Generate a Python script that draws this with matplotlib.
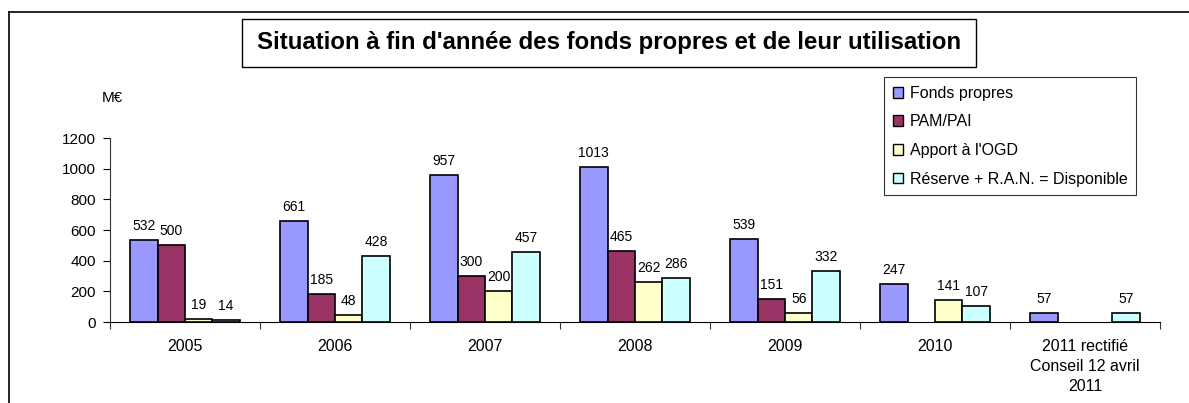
import numpy as np
import matplotlib
matplotlib.use("Agg")
import matplotlib.pyplot as plt
from matplotlib.lines import Line2D
from matplotlib.patches import Rectangle

plt.rcParams['font.family'] = ['Liberation Sans', 'DejaVu Sans']

categories = ["2005", "2006", "2007", "2008", "2009", "2010",
              "2011 rectifié\nConseil 12 avril\n2011"]
fonds_propres = [532, 661, 957, 1013, 539, 247, 57]
pam_pai = [500, 185, 300, 465, 151, None, None]
apport_ogd = [19, 48, 200, 262, 56, 141, None]
reserve = [14, 428, 457, 286, 332, 107, 57]

series_names = ["Fonds propres", "PAM/PAI", "Apport à l'OGD",
                "Réserve + R.A.N. = Disponible"]
series_values = [fonds_propres, pam_pai, apport_ogd, reserve]
colors = ["#9999FF", "#993366", "#FFFFCC", "#CCFFFF"]


def main():
    W, H = 1189, 403
    fig = plt.figure(figsize=(W / 100, H / 100), dpi=100)
    ax = fig.add_axes([110 / W, (H - 322) / H, 1050 / W, 184 / H])

    x = np.arange(len(categories))
    bw = 0.183
    for i, (name, vals, col) in enumerate(zip(series_names, series_values, colors)):
        off = (i - 1.5) * bw
        xs = [xi + off for xi, v in zip(x, vals) if v is not None]
        vs = [v for v in vals if v is not None]
        ax.bar(xs, vs, width=bw, color=col, edgecolor="black", linewidth=1.2,
               label=name, zorder=3)
        for xi, v in zip(xs, vs):
            ax.annotate(str(v), (xi, v), xytext=(0, 5), textcoords="offset points",
                        ha="center", va="bottom", fontsize=10)

    ax.set_xlim(-0.5, len(categories) - 0.5)
    ax.set_ylim(0, 1200)
    ax.set_yticks(range(0, 1201, 200))
    ax.tick_params(axis="y", labelsize=11, length=5, direction="out", pad=5)

    # category boundaries as ticks, labels at centers
    ax.set_xticks(np.arange(-0.5, len(categories), 1.0))
    ax.set_xticklabels([])
    ax.tick_params(axis="x", which="major", length=5, direction="out", color="#333333")
    ax.set_xticks(x, minor=True)
    ax.set_xticklabels(categories, minor=True, fontsize=11.5, linespacing=1.45)
    ax.tick_params(axis="x", which="minor", length=0, pad=12)

    for s in ["top", "right"]:
        ax.spines[s].set_visible(False)
    ax.spines["left"].set_color("#333333")
    ax.spines["bottom"].set_color("black")

    leg = ax.legend(loc="upper left", bbox_to_anchor=(884 / W, 1 - 77 / H),
                    bbox_transform=fig.transFigure, fontsize=11.5, frameon=True,
                    fancybox=False, edgecolor="black", handlelength=0.65,
                    handleheight=0.65, handletextpad=0.4, labelspacing=0.85,
                    borderpad=0.55, borderaxespad=0)
    leg.get_frame().set_linewidth(0.8)
    for h in leg.legend_handles:
        h.set_linewidth(1.0)

    # title in its own box
    fig.add_artist(Rectangle((242 / W, 1 - 67 / H), (976 - 242) / W, 48 / H,
                             transform=fig.transFigure, facecolor="white",
                             edgecolor="black", linewidth=1.0))
    fig.text(609 / W, 1 - 43 / H,
             "Situation à fin d'année des fonds propres et de leur utilisation",
             ha="center", va="center", fontsize=17.3, fontweight="bold")

    fig.text(112 / W, 1 - 98 / H, "M€", ha="center", va="center", fontsize=11)

    # outer chart border
    fig.add_artist(Line2D([9 / W, 9 / W], [0, 1 - 12 / H], color="black", lw=1.2))
    fig.add_artist(Line2D([9 / W, 1], [1 - 12 / H, 1 - 12 / H], color="black", lw=1.2))

    fig.savefig("out.png", dpi=100)
    plt.close(fig)


if __name__ == "__main__":
    main()
